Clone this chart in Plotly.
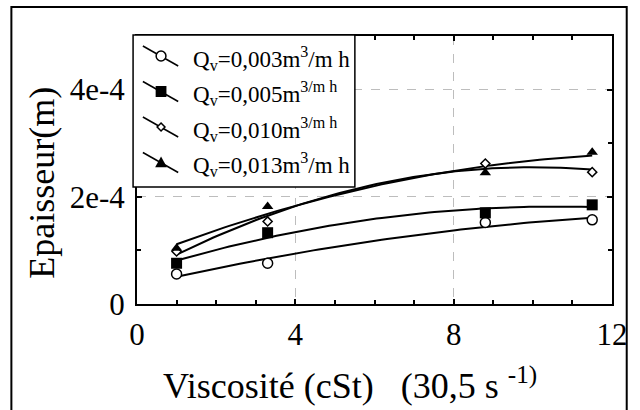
import numpy as np
import plotly.graph_objects as go

# ---- data ----
viscosity = [1.0, 3.3, 8.8, 11.5]
q_003 = [0.56e-4, 0.76e-4, 1.52e-4, 1.57e-4]
q_005 = [0.76e-4, 1.33e-4, 1.70e-4, 1.85e-4]
q_010 = [0.98e-4, 1.54e-4, 2.62e-4, 2.46e-4]
q_013 = [1.04e-4, 1.82e-4, 2.45e-4, 2.83e-4]
series_labels = [
    "Q<sub>v</sub>=0,003m<sup>3</sup>/m h",
    "Q<sub>v</sub>=0,005m<sup>3/m h</sup>",
    "Q<sub>v</sub>=0,010m<sup>3/m h</sup>",
    "Q<sub>v</sub>=0,013m<sup>3</sup>/m h",
]
y_tickvals = [0, 2e-4, 4e-4]
y_ticktext = ["0", "2e-4", "4e-4"]
x_tickvals = [0, 4, 8, 12]

FONT = "'Liberation Serif', 'Times New Roman', Times, serif"
W, H = 640, 410
L, R, T, B = 137, 621, 36, 304  # plot area in pixels


def px(x):
    return (x - L) / (R - L)


def py(y):
    return (B - y) / (B - T)


series = [q_003, q_005, q_010, q_013]
markers = [
    dict(symbol="circle", size=10, color="white", line=dict(color="black", width=1.5)),
    dict(symbol="square", size=11, color="black", line=dict(color="black", width=0)),
    dict(symbol="diamond", size=7, color="white", line=dict(color="black", width=1.5)),
    dict(symbol="triangle-up", size=10, color="black", line=dict(color="black", width=0)),
]

fig = go.Figure()
xs = np.linspace(min(viscosity), max(viscosity), 80)
for vals, mk, name in zip(series, markers, series_labels):
    coef = np.polyfit(viscosity, vals, 2)
    fig.add_trace(go.Scatter(x=xs, y=np.polyval(coef, xs), mode="lines",
                             line=dict(color="black", width=2), showlegend=False,
                             hoverinfo="skip"))
for vals, mk, name in zip(series, markers, series_labels):
    fig.add_trace(go.Scatter(x=viscosity, y=vals, mode="markers", marker=mk,
                             name=name, showlegend=False))

shapes = []
annotations = []

# outer frame (top, left, right)
shapes.append(dict(type="path", xref="paper", yref="paper",
                   path=f"M {px(9)},{py(420)} L {px(9)},{py(7)} L {px(636)},{py(7)} L {px(636)},{py(420)}",
                   line=dict(color="black", width=2), layer="above"))

# legend box
shapes.append(dict(type="rect", xref="paper", yref="paper",
                   x0=px(133), x1=px(359), y0=py(187), y1=py(35),
                   fillcolor="white", line=dict(color="black", width=1.5), layer="above"))
for k, (mk, label) in enumerate(zip(markers, series_labels)):
    cy = 56 + 35.5 * k
    shapes.append(dict(type="line", xref="paper", yref="paper",
                       x0=px(143), y0=py(cy - 10), x1=px(179), y1=py(cy + 10),
                       line=dict(color="black", width=1.5), layer="above"))
    cx = 161.5
    if mk["symbol"] == "circle":
        r = 5
        shapes.append(dict(type="circle", xref="paper", yref="paper",
                           x0=px(cx - r), x1=px(cx + r), y0=py(cy + r), y1=py(cy - r),
                           fillcolor="white", line=dict(color="black", width=1.5), layer="above"))
    elif mk["symbol"] == "square":
        r = 5.5
        shapes.append(dict(type="rect", xref="paper", yref="paper",
                           x0=px(cx - r), x1=px(cx + r), y0=py(cy + r), y1=py(cy - r),
                           fillcolor="black", line=dict(color="black", width=0), layer="above"))
    elif mk["symbol"] == "diamond":
        r = 4
        shapes.append(dict(type="path", xref="paper", yref="paper",
                           path=f"M {px(cx)},{py(cy - r)} L {px(cx + r)},{py(cy)} L {px(cx)},{py(cy + r)} L {px(cx - r)},{py(cy)} Z",
                           fillcolor="white", line=dict(color="black", width=1.5), layer="above"))
    else:
        r = 6
        shapes.append(dict(type="path", xref="paper", yref="paper",
                           path=f"M {px(cx)},{py(cy - r)} L {px(cx + r)},{py(cy + r * 0.8)} L {px(cx - r)},{py(cy + r * 0.8)} Z",
                           fillcolor="black", line=dict(color="black", width=0), layer="above"))
    annotations.append(dict(xref="paper", yref="paper", x=px(192), y=py(cy + 2),
                            xanchor="left", yanchor="middle", showarrow=False,
                            text=label, font=dict(family=FONT, size=23, color="black")))

# axis titles
annotations.append(dict(xref="paper", yref="paper", x=px(40), y=py(183),
                        xanchor="center", yanchor="middle", showarrow=False, textangle=-90,
                        text="Epaisseur(m)", font=dict(family=FONT, size=36, color="black")))
annotations.append(dict(xref="paper", yref="paper", x=px(354), y=py(383),
                        xanchor="center", yanchor="middle", showarrow=False,
                        text="Viscosité (cSt)\u00a0\u00a0\u00a0(30,5 s <sup>-1)</sup>",
                        font=dict(family=FONT, size=36, color="black")))

axis_common = dict(showline=True, linecolor="black", linewidth=2, mirror="allticks",
                   ticks="inside", ticklen=5, tickwidth=1.5, tickcolor="black",
                   showgrid=True, gridcolor="#bdbdbd", griddash="dash", gridwidth=1,
                   zeroline=False, tickfont=dict(family=FONT, size=31, color="black"))

fig.update_layout(
    width=W, height=H,
    margin=dict(l=L, r=W - R, t=T, b=H - B),
    paper_bgcolor="white", plot_bgcolor="white",
    font=dict(family=FONT, color="black"),
    showlegend=False,
    xaxis=dict(range=[0, 12], tickvals=x_tickvals, ticklabelstandoff=2,
               minor=dict(dtick=1, ticks="inside", ticklen=4, tickcolor="black", showgrid=False),
               **axis_common),
    yaxis=dict(range=[0, 5e-4], tickvals=y_tickvals, ticktext=y_ticktext, ticklabelstandoff=4,
               minor=dict(dtick=1e-4, ticks="inside", ticklen=4, tickcolor="black", showgrid=False),
               **axis_common),
    shapes=shapes, annotations=annotations,
)

fig.write_html("out.html")
